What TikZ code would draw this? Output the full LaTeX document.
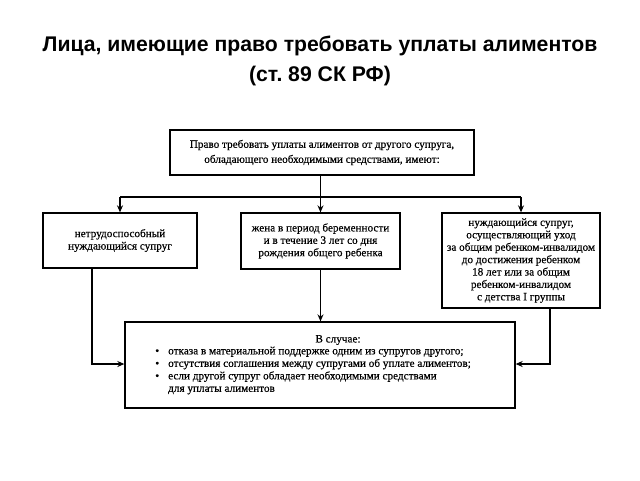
\documentclass[tikz,border=0pt]{standalone}
\usepackage{fontspec}
\setmainfont{Liberation Serif}[FakeBold=0.4]
\newfontfamily\titlefont{Liberation Sans}
\usetikzlibrary{arrows.meta}
\frenchspacing
\begin{document}
\begin{tikzpicture}[x=1pt,y=-1pt,
  box/.style={draw,line width=1.3pt,align=center,inner sep=0pt,font=\fontsize{11.2}{12.4}\selectfont},
  conn/.style={line width=1.3pt},
  arr/.style={conn,-{Stealth[length=7pt,width=6pt]}}]
\useasboundingbox (0,0) rectangle (640,480);
\node[font=\titlefont\bfseries\fontsize{21.2}{30}\selectfont,align=center] (title) at (320,61)
  {Лица, имеющие право требовать уплаты алиментов\\(ст. 89 СК РФ)};
\node[box,minimum width=304pt,minimum height=45pt,font=\fontsize{11.2}{15}\selectfont] (top) at (322,152.5)
  {Право требовать уплаты алиментов от другого супруга,\\обладающего необходимыми средствами, имеют:};
\node[box,minimum width=154pt,minimum height=55pt] (left) at (120,240.5)
  {нетрудоспособный\\нуждающийся супруг};
\node[box,minimum width=159pt,minimum height=56pt] (mid) at (320.5,241)
  {жена в период беременности\\и в течение 3 лет со дня\\рождения общего ребенка};
\node[box,minimum width=158pt,minimum height=95pt] (right) at (521,260.5)
  {нуждающийся супруг,\\осуществляющий уход\\за общим ребенком-инвалидом\\до достижения ребенком\\18 лет или за общим\\ребенком-инвалидом\\с детства I группы};
\node[box,minimum width=390pt,minimum height=86pt] (bot) at (320,365) {};
\node[font=\fontsize{11.2}{12.5}\selectfont] (case) at (338,340) {В случае:};
\node[font=\fontsize{11.2}{12.5}\selectfont,align=left,anchor=north west,inner sep=0pt] (list) at (168,346.5)
  {\llap{\textbullet\hspace{9pt}}отказа в материальной поддержке одним из супругов другого;\\
   \llap{\textbullet\hspace{9pt}}отсутствия соглашения между супругами об уплате алиментов;\\
   \llap{\textbullet\hspace{9pt}}если другой супруг обладает необходимыми средствами\\
   для уплаты алиментов};
\coordinate (jl) at (120,197);
\coordinate (jr) at (521,197);
\coordinate (lb) at (92,364);
\coordinate (rb) at (550,364);
\draw[arr] (mid.north |- top.south) -- (mid.north);
\draw[conn] (jl) -- (jr);
\draw[arr] (jl) -- (left.north);
\draw[arr] (jr) -- (right.north);
\draw[arr] (mid.south) -- (bot.north -| mid.south);
\draw[arr] (lb |- left.south) -- (lb) -- (bot.west |- lb);
\draw[arr] (rb |- right.south) -- (rb) -- (bot.east |- rb);
\end{tikzpicture}
\end{document}
